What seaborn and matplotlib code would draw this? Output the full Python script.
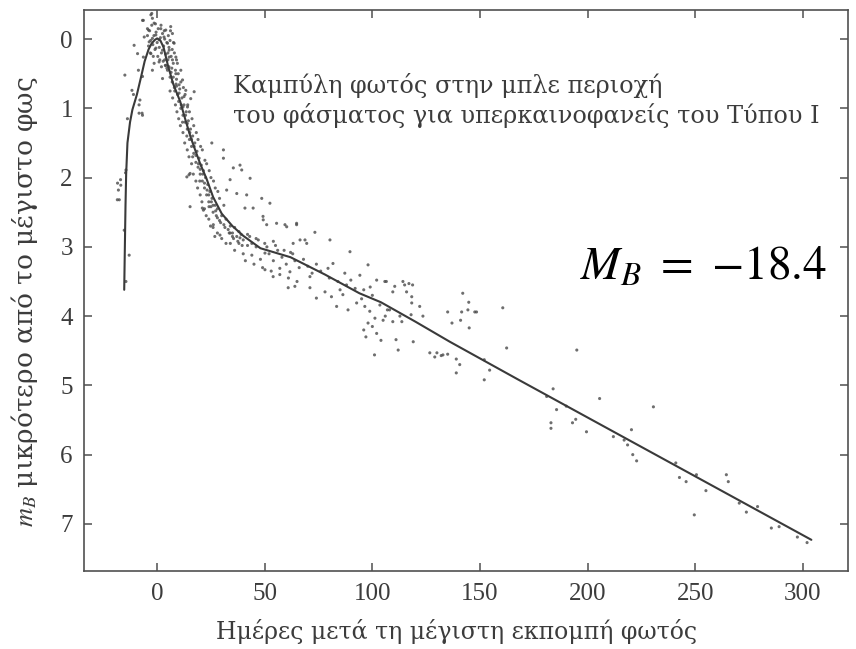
"""
Light curve of Type I supernovae in the blue band (m_B relative to maximum).
Scatter of observations plus the mean curve, drawn with seaborn.
"""

import numpy as np
import pandas as pd
import matplotlib
matplotlib.use("Agg")
import matplotlib.pyplot as plt
import seaborn as sns

# ---------------------------------------------------------------------------
# Data
# ---------------------------------------------------------------------------

# mean light curve
curve_x = [-15.3, -15.0, -14.7, -14.4, -13.8, -12.6, -11.5, -9.4, -7.5, -5.8,
           -4.0, -2.5, -1.0, 0.0, 1.5, 3.0, 5.0, 7.5, 10.7, 13.0,
           15.6, 18.0, 20.0, 23.0, 26.0, 30.0, 35.0, 40.0, 48.0, 62.0,
           78.0, 94.0, 104.0, 120.0, 136.0, 168.0, 241.0, 304.0]
curve_y = [3.62, 3.00, 2.40, 1.95, 1.50, 1.20, 1.02, 0.80, 0.55, 0.32,
           0.15, 0.06, 0.01, -0.01, 0.02, 0.12, 0.38, 0.65, 0.90, 1.15,
           1.42, 1.63, 1.80, 2.02, 2.28, 2.52, 2.70, 2.84, 3.02, 3.15,
           3.40, 3.67, 3.80, 4.08, 4.37, 4.92, 6.16, 7.23]

# observations before maximum
rise_x = [-18.0, -18.5, -17.0, -13.8, -15.0, -11.7, -11.0, -7.0, -8.0, -8.7,
          -6.4, -4.0, -6.4, -2.5, -18.4, -17.6, -16.9, -8.4, -6.8, -14.5,
          -14.7, -13.0, -14.5, -15.3, -8.4, -6.8, -10.7, -9.1]
rise_y = [2.18, 2.32, 2.03, 1.15, 0.52, 0.74, 0.80, 1.07, 0.88, 0.45,
          0.26, -0.13, -0.27, -0.37, 2.08, 2.32, 2.11, 1.07, 1.10, 1.89,
          1.93, 3.12, 3.50, 2.76, 0.95, 0.54, 0.09, 0.21]

# around maximum
peak_x = [-2.9, -1.4, -6.8, -4.5, -0.6, 1.7, 4.0, 6.3, 7.1, -6.0,
          -3.7, -2.2, 0.9, 3.2, 4.8, -0.6, 2.5, 5.6, 7.9, -2.9,
          -1.4, -2.2, 2.5, 8.7, 9.4, 7.1, 11.0, 8.7, 11.8, 10.2,
          13.3, 12.5, 15.6, 17.2, 14.1, 4.8, 4.0, 0.9, 5.6, -4.5,
          -4.0, -3.5, -3.0, -2.5, -2.0, -1.5, -1.0, -0.5, 0.0, 0.5,
          1.0, 1.5, 2.0, 2.5, 3.0, 3.5, 4.0, 4.5, 5.0, 5.5,
          6.0, 6.5, 7.0, 7.5, 8.0, -3.2, -1.8, 0.3, 1.2, 2.8,
          3.8, 6.8, 8.5, 9.0, -2.2, -0.8, 1.8, 3.3, 5.2, 6.2,
          7.6]
peak_y = [-0.35, -0.23, -0.27, -0.15, -0.06, -0.15, -0.13, -0.18, -0.08, -0.03,
          0.04, -0.01, 0.01, -0.03, 0.06, 0.13, 0.16, 0.16, 0.06, 0.21,
          0.35, 0.45, 0.57, 0.26, 0.35, 0.30, 0.45, 0.50, 0.59, 0.66,
          0.74, 0.83, 0.86, 0.76, 0.98, 0.45, 0.38, 0.33, 0.26, -0.05,
          0.10, -0.12, 0.02, -0.20, 0.08, -0.05, 0.15, -0.10, 0.05, -0.15,
          0.12, -0.02, 0.20, -0.08, 0.10, 0.00, 0.22, 0.05, 0.30, 0.12,
          0.02, 0.25, 0.15, 0.35, 0.20, 0.20, 0.25, 0.25, 0.30, 0.32,
          0.38, 0.42, 0.45, 0.30, -0.30, -0.22, -0.20, -0.12, -0.05, -0.12,
          0.05]

# fast decline
band_x = [6, 7, 8, 9, 9.5, 10, 10.5, 11, 11.5, 12,
          12.5, 13, 13.5, 14, 14.5, 15, 15.5, 16, 16.5, 17,
          17.5, 18, 18.5, 19, 19.5, 20, 20.5, 21, 21.5, 22,
          22.5, 23, 23.5, 24, 24.5, 25, 25.5, 26, 27, 27.5,
          28, 29, 30, 31, 32, 33, 34, 35, 36, 37,
          38, 40, 42, 44, 46, 8.5, 10, 12, 14, 16,
          18, 20, 22, 24, 26, 28, 30, 32, 11, 13,
          15, 17, 19, 21, 23, 25, 27, 29, 31, 7.2,
          9.2, 10.8, 12.8, 14.8, 16.8, 18.8, 20.8, 22.8, 24.8, 26.8,
          9.8, 12.2, 14.2, 16.2, 18.2, 20.2, 22.2, 24.2, 26.2, 28.2]
band_y = [0.55, 0.62, 0.70, 0.58, 0.80, 0.90, 0.72, 1.00, 0.85, 1.10,
          0.95, 1.20, 1.05, 1.30, 1.18, 1.45, 1.30, 1.55, 1.40, 1.65,
          1.50, 1.78, 1.62, 1.85, 1.72, 1.95, 1.82, 2.05, 1.90, 2.15,
          2.00, 2.25, 2.10, 2.35, 2.20, 2.42, 2.30, 2.50, 2.40, 2.55,
          2.45, 2.62, 2.55, 2.68, 2.60, 2.75, 2.70, 2.80, 2.72, 2.85,
          2.78, 2.90, 2.82, 2.95, 2.88, 0.95, 1.15, 1.35, 1.60, 1.80,
          2.05, 2.25, 2.45, 2.60, 2.72, 2.80, 2.88, 2.95, 0.62, 0.80,
          1.05, 1.25, 1.45, 1.60, 1.80, 2.00, 2.15, 2.30, 2.40, 0.85,
          1.05, 1.25, 1.50, 1.70, 1.95, 2.15, 2.35, 2.55, 2.70, 2.85,
          0.50, 0.70, 0.95, 1.15, 1.35, 1.55, 1.75, 1.90, 2.05, 2.20]

# extra points inside the dense part of the decline
band2_x = [5.5, 6.5, 7.5, 8.2, 9.0, 10.2, 11.2, 12.0, 13.2, 14.0,
           15.2, 16.0, 17.2, 18.0, 19.2, 20.0, 21.2, 22.0, 23.2, 24.0,
           25.2, 26.0, 27.2, 28.0, 29.5, 31.5, 33.5, 35.5, 37.5, 39.5,
           3.5, 4.5, 5.0, 6.0, 2.0, 8.8, 11.8, 13.8, 16.5, 19.8]
band2_y = [0.40, 0.48, 0.55, 0.75, 0.68, 0.78, 0.95, 0.98, 1.10, 1.22,
           1.35, 1.45, 1.55, 1.68, 1.80, 1.88, 1.95, 2.08, 2.18, 2.25,
           2.35, 2.40, 2.48, 2.58, 2.65, 2.72, 2.80, 2.88, 2.92, 2.98,
           0.30, 0.42, 0.20, 0.75, 0.40, 0.65, 1.20, 1.40, 1.70, 2.05]

# scattered points around the knee
knee_x = [30.8, 35.4, 39.3, 43.2, 33.9, 32.3, 37.0, 41.6, 48.6, 52.4,
          44.6, 40.8, 49.2, 55.5, 60.2, 64.8, 68.7, 15.3, 21.5, 26.1,
          29.2, 33.9, 38.5, 25.4, 30.8, 38.5, 15.3, 13.8, 14.8, 21.0,
          24.1]
knee_y = [1.72, 1.86, 1.89, 2.01, 2.03, 2.18, 2.23, 2.25, 2.30, 2.37,
          2.44, 2.44, 2.56, 2.66, 2.71, 2.66, 2.90, 1.94, 2.47, 2.68,
          2.83, 2.80, 2.87, 1.50, 1.60, 1.82, 2.42, 1.99, 1.96, 2.44,
          2.42]

# slow decline, 30-120 days
tail_x = [49.3, 50.9, 59.4, 64.8, 73.3, 66.4, 63.2, 69.5, 54.0, 80.3,
          89.6, 81.7, 79.4, 87.2, 94.2, 98.0, 102.0, 105.8, 110.4, 114.2,
          115.9, 50.1, 50.1, 53.9, 57.0, 61.7, 60.9, 64.0, 71.0, 71.0,
          74.0, 78.0, 81.0, 83.4, 86.3, 88.7, 92.7, 96.5, 98.8, 101.2,
          108.0, 112.8, 34, 36, 38, 40, 42, 44, 46, 48,
          50, 52, 54, 56, 58, 60, 62, 64, 66, 68,
          70, 72, 74, 76, 35, 39, 43, 47, 51, 55,
          59, 63, 41, 45, 49, 53, 57, 61, 65, 80,
          84, 88, 92, 96, 100, 85, 90, 95, 99]
tail_y = [2.61, 2.68, 2.68, 2.68, 2.79, 2.90, 2.95, 2.95, 2.92, 2.90,
          3.07, 3.24, 3.31, 3.38, 3.41, 3.26, 3.48, 3.50, 3.57, 3.50,
          3.65, 3.09, 3.33, 3.43, 3.31, 3.36, 3.59, 3.57, 3.59, 3.43,
          3.74, 3.65, 3.72, 3.86, 3.69, 3.91, 3.81, 3.86, 3.93, 4.03,
          3.91, 4.00, 2.95, 3.05, 2.95, 3.10, 2.98, 3.12, 3.00, 3.18,
          2.95, 3.10, 3.20, 3.05, 3.15, 3.25, 3.08, 3.20, 3.30, 3.18,
          3.28, 3.38, 3.25, 3.35, 2.85, 2.82, 2.85, 2.90, 3.00, 2.98,
          3.05, 3.10, 3.20, 3.25, 3.30, 3.35, 3.40, 3.45, 3.50, 3.45,
          3.50, 3.55, 3.60, 3.62, 3.70, 3.62, 3.48, 3.75, 3.58]

# 100-165 days
mid_x = [135, 141.5, 137, 141, 145, 147.6, 142, 144.8, 160.6, 162.4,
         126.7, 129, 132, 135, 139, 140.6, 119, 112, 111, 106.5,
         109.5, 115, 117, 118.7, 118.3, 118.3, 122, 123.5, 107, 105,
         109.5, 113.7, 103.5, 106, 118, 144.4, 148.4, 139, 152, 154.5,
         152, 130, 132.8, 101, 96, 97, 100, 102, 104, 98]
mid_y = [3.94, 3.94, 4.10, 4.06, 4.17, 3.94, 3.67, 3.80, 3.88, 4.46,
         4.53, 4.59, 4.57, 4.55, 4.62, 4.70, 4.37, 4.49, 4.34, 3.50,
         3.65, 3.55, 3.53, 3.55, 3.72, 3.81, 3.86, 4.00, 3.91, 4.06,
         4.08, 4.08, 3.84, 4.00, 3.98, 3.91, 3.94, 4.82, 4.92, 4.78,
         4.63, 4.53, 4.56, 4.56, 4.20, 4.30, 4.15, 4.25, 4.35, 4.10]

# late phase
late_x = [195, 184, 181, 185.6, 183, 183, 193, 194.5, 199.5, 205.6,
          212, 217, 218.6, 220.4, 221, 222.8, 230.6, 241, 242.7, 245.8,
          249.6, 250.6, 255, 264.5, 265.4, 270.5, 273.8, 279, 285.4, 289,
          297.5, 302, 190.1]
late_y = [4.49, 5.05, 5.16, 5.35, 5.54, 5.62, 5.54, 5.49, 5.67, 5.19,
          5.74, 5.79, 5.86, 5.64, 6.00, 6.09, 5.31, 6.12, 6.33, 6.39,
          6.87, 6.29, 6.52, 6.29, 6.39, 6.70, 6.83, 6.75, 7.06, 7.04,
          7.19, 7.27, 5.30]

x_ticks = [0, 50, 100, 150, 200, 250, 300]
y_ticks = [0, 1, 2, 3, 4, 5, 6, 7]

title_lines = ["Καμπύλη φωτός στην μπλε περιοχή",
               "του φάσματος για υπερκαινοφανείς του Τύπου I"]
x_label = "Ημέρες μετά τη μέγιστη εκπομπή φωτός"
y_label = "$m_B$ μικρότερο από το μέγιστο φως"
abs_mag = r"$M_B\ =\ {-}18.4$"

# ---------------------------------------------------------------------------
# Figure
# ---------------------------------------------------------------------------

sns.set_style("ticks")
plt.rcParams["font.family"] = ["Liberation Serif", "DejaVu Serif"]
plt.rcParams["mathtext.fontset"] = "stix"
wide_serif = ["DejaVu Serif", "Liberation Serif"]   # Greek labels are wide

obs = pd.DataFrame({
    "gun": rise_x + peak_x + band_x + band2_x + knee_x + tail_x + mid_x + late_x,
    "mag": rise_y + peak_y + band_y + band2_y + knee_y + tail_y + mid_y + late_y,
})

fig = plt.figure(figsize=(8.56, 6.49), dpi=100)
ax = fig.add_axes([0.0981, 0.1202, 0.8925, 0.8644])

sns.scatterplot(data=obs, x="gun", y="mag", s=5, color="#4a4a4a",
                edgecolor="none", alpha=0.8, ax=ax, zorder=2)
sns.lineplot(x=curve_x, y=curve_y, sort=False, estimator=None,
             color="#3a3a3a", linewidth=1.5, ax=ax, zorder=3)

ax.set_xlim(-34, 321)
ax.set_ylim(7.68, -0.42)
ax.set_xticks(x_ticks)
ax.set_yticks(y_ticks)

grey = "#3c3c3c"
for sp in ax.spines.values():
    sp.set_visible(True)
    sp.set_color("#505050")
    sp.set_linewidth(1.2)
ax.tick_params(direction="in", top=True, right=True, length=6, width=1.1,
               color="#505050", labelsize=18, labelcolor=grey)
ax.tick_params(axis="x", pad=9)
ax.tick_params(axis="y", pad=8)

ax.set_xlabel(x_label, fontsize=17, color=grey, family=wide_serif)
ax.set_ylabel(y_label, fontsize=19, color=grey, family=wide_serif)
ax.xaxis.set_label_coords(0.487, -0.085)
ax.yaxis.set_label_coords(-0.058, 0.48)

ax.text(35.3, 0.78, title_lines[0], fontsize=17.3, color=grey,
        va="baseline", family=wide_serif)
ax.text(35.3, 1.21, title_lines[1], fontsize=17.3, color=grey,
        va="baseline", family=wide_serif)
ax.text(196.3, 3.48, abs_mag, fontsize=34, color="black", va="baseline")

plt.savefig("out.png", dpi=100)
plt.close(fig)
